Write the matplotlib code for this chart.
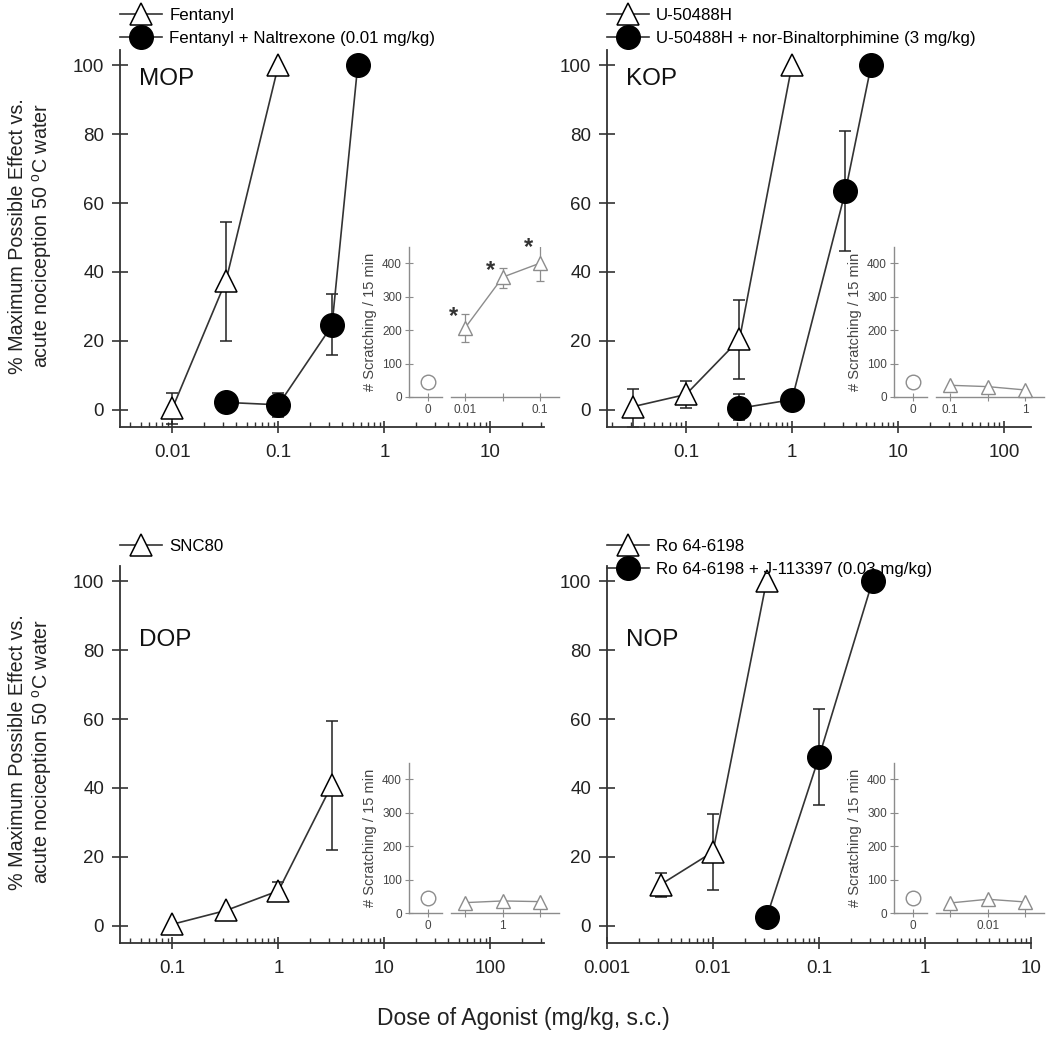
import numpy as np
import matplotlib.pyplot as plt
from matplotlib.lines import Line2D
from matplotlib.ticker import LogLocator, FuncFormatter, NullFormatter

plt.rcParams['font.family'] = ['Liberation Sans', 'DejaVu Sans']
plt.rcParams['mathtext.fontset'] = 'custom'
plt.rcParams['mathtext.rm'] = 'Liberation Sans'

# main panels: % MPE, with error bar bounds
mop_dose = [0.01, 0.032, 0.1]
mop_mpe = [0.5, 37.5, 100]
mop_lo = [-4, 20, 100]
mop_hi = [5, 54.5, 100]
mop_ant_dose = [0.032, 0.1, 0.32, 0.56]
mop_ant_mpe = [2.2, 1.5, 24.5, 100]
mop_ant_lo = [2.2, -2, 16, 100]
mop_ant_hi = [2.2, 5, 33.5, 100]

kop_dose = [0.032, 0.1, 0.32, 1]
kop_mpe = [1, 4.5, 20.5, 100]
kop_lo = [-5, 0.5, 9, 100]
kop_hi = [6, 8.5, 32, 100]
kop_ant_dose = [0.32, 1, 3.2, 5.6]
kop_ant_mpe = [0.5, 3, 63.5, 100]
kop_ant_lo = [-3, 3, 46, 100]
kop_ant_hi = [4.5, 3, 81, 100]

dop_dose = [0.1, 0.32, 1, 3.2]
dop_mpe = [0.5, 4.5, 10.2, 41]
dop_lo = [0.5, 4.5, 7.3, 22]
dop_hi = [0.5, 4.5, 12.8, 59.5]

nop_dose = [0.0032, 0.01, 0.032]
nop_mpe = [12, 21.5, 100]
nop_lo = [8.5, 10.5, 100]
nop_hi = [15.5, 32.5, 100]
nop_ant_dose = [0.032, 0.1, 0.32]
nop_ant_mpe = [2.5, 49, 100]
nop_ant_lo = [2.5, 35, 100]
nop_ant_hi = [2.5, 63, 100]

# insets: scratching bouts / 15 min
itch_vehicle = 45
mop_itch = [207, 358, 400]
mop_itch_lo = [165, 325, 345]
mop_itch_hi = [248, 385, 455]
mop_itch_labels = ['0.01', '', '0.1']
kop_itch = [35, 31, 21]
kop_itch_labels = ['0.1', '', '1']
dop_itch = [31, 36, 34]
dop_itch_labels = ['', '1', '']
nop_itch = [30, 41, 33]
nop_itch_labels = ['', '0.01', '']

W = 1050.0
LINE = '#333333'
GREY = '#8c8c8c'


def Curve(ax, dose, val, lo, hi, filled):
    yerr = [np.subtract(val, lo), np.subtract(hi, val)]
    ax.errorbar(dose, val, yerr=yerr, fmt='none', ecolor='#222222',
                elinewidth=1.1, capsize=4.5, capthick=1.1, zorder=2)
    if filled:
        ax.plot(dose, val, color=LINE, lw=1.2, marker='o', ms=17,
                mfc='black', mec='black', zorder=3, clip_on=False)
    else:
        ax.plot(dose, val, color=LINE, lw=1.2, marker='^', ms=15.5,
                mfc='white', mec='black', mew=1.1, zorder=3, clip_on=False)


def SetupMain(ax, xlim, name, name_y):
    ax.set_xscale('log')
    ax.set_xlim(xlim)
    ax.set_ylim(-4.93, 104.35)
    for s in ['top', 'right']:
        ax.spines[s].set_visible(False)
    for s in ['left', 'bottom']:
        ax.spines[s].set_linewidth(1.3)
        ax.spines[s].set_color(LINE)
    ax.set_yticks([0, 20, 40, 60, 80, 100])
    ax.xaxis.set_major_locator(LogLocator(base=10, numticks=20))
    ax.xaxis.set_minor_locator(LogLocator(base=10, subs=np.arange(2, 10), numticks=20))
    ax.xaxis.set_major_formatter(FuncFormatter(lambda v, p: f'{v:g}'))
    ax.xaxis.set_minor_formatter(NullFormatter())
    ax.tick_params(axis='y', direction='inout', length=11, width=1.2,
                   labelsize=13.5, pad=6, color=LINE, labelcolor='#222222')
    ax.tick_params(axis='x', which='major', direction='inout', length=9,
                   width=1.2, labelsize=13.5, pad=8, color=LINE, labelcolor='#222222')
    ax.tick_params(axis='x', which='minor', direction='in', length=3.5,
                   width=1, color=LINE)
    ax.text(0.045, (name_y + 4.93) / 109.28, name, transform=ax.transAxes,
            fontsize=17.5, ha='left', va='center', color='#111111')


def Inset(left, bottom, vals, labels, lo=None, hi=None, stars=False):
    ax = fig.add_axes([left / W, bottom / W, 150 / W, 150 / W])
    ax.patch.set_visible(False)
    ax.set_xlim(-0.5, 3.5)
    ax.set_ylim(0, 448)
    for s in ['top', 'right', 'bottom']:
        ax.spines[s].set_visible(False)
    ax.spines['left'].set_color(GREY)
    ax.spines['left'].set_linewidth(1)
    ax.plot([-0.5, 0.38], [0, 0], color=GREY, lw=1, clip_on=False)
    ax.plot([0.62, 3.5], [0, 0], color=GREY, lw=1, clip_on=False)
    ax.plot([0], [itch_vehicle], marker='o', ms=10.5, mfc='white', mec=GREY,
            mew=1, ls='none', clip_on=False)
    x = np.arange(1, len(vals) + 1)
    if lo is not None:
        ax.errorbar(x, vals, yerr=[np.subtract(vals, lo), np.subtract(hi, vals)],
                    fmt='none', ecolor=GREY, elinewidth=0.9, capsize=3,
                    capthick=0.9, zorder=2)
    ax.plot(x, vals, color=GREY, lw=1, marker='^', ms=10.5, mfc='white',
            mec=GREY, mew=1, zorder=3, clip_on=False)
    if stars:
        for xi, v in zip(x, hi):
            ax.text(xi - 0.32, v - 8, '*', fontsize=17, fontweight='bold',
                    ha='center', va='center', color='#333333')
    ax.set_xticks(np.arange(0, 4))
    ax.set_xticklabels(['0'] + labels)
    ax.set_yticks(range(0, 401, 100))
    ax.tick_params(direction='inout', length=6, width=0.8, color=GREY,
                   labelsize=8.5, labelcolor='#444444', pad=2)
    ax.set_ylabel('# Scratching / 15 min', fontsize=10.5, color='#444444',
                  labelpad=4)
    return ax


def Legend(x, y, entries):
    handles = []
    labels = []
    for filled, text in entries:
        if filled:
            h = Line2D([], [], color=LINE, lw=1.2, marker='o', ms=17,
                       mfc='black', mec='black')
        else:
            h = Line2D([], [], color=LINE, lw=1.2, marker='^', ms=15.5,
                       mfc='white', mec='black', mew=1.1)
        handles.append(h)
        labels.append(text)
    fig.legend(handles, labels, loc='upper left',
               bbox_to_anchor=(x / W, 1 - y / W), frameon=False,
               fontsize=12.2, handlelength=2.5, handletextpad=0.4,
               labelspacing=0.45, borderpad=0, borderaxespad=0, numpoints=1)


fig = plt.figure(figsize=(10.5, 10.5), dpi=100)

ax1 = fig.add_axes([120 / W, (W - 427) / W, 424 / W, 377 / W])
ax2 = fig.add_axes([607 / W, (W - 427) / W, 424 / W, 377 / W])
ax3 = fig.add_axes([120 / W, (W - 943) / W, 424 / W, 377 / W])
ax4 = fig.add_axes([607 / W, (W - 943) / W, 424 / W, 377 / W])

Curve(ax1, mop_dose, mop_mpe, mop_lo, mop_hi, False)
Curve(ax1, mop_ant_dose, mop_ant_mpe, mop_ant_lo, mop_ant_hi, True)
SetupMain(ax1, (0.0032, 32), 'MOP', 96)

Curve(ax2, kop_dose, kop_mpe, kop_lo, kop_hi, False)
Curve(ax2, kop_ant_dose, kop_ant_mpe, kop_ant_lo, kop_ant_hi, True)
SetupMain(ax2, (0.018, 180), 'KOP', 96)

Curve(ax3, dop_dose, dop_mpe, dop_lo, dop_hi, False)
SetupMain(ax3, (0.032, 320), 'DOP', 83)

Curve(ax4, nop_dose, nop_mpe, nop_lo, nop_hi, False)
Curve(ax4, nop_ant_dose, nop_ant_mpe, nop_ant_lo, nop_ant_hi, True)
SetupMain(ax4, (0.001, 10), 'NOP', 83)

Inset(409, W - 397, mop_itch, mop_itch_labels, mop_itch_lo, mop_itch_hi, stars=True)
Inset(894, W - 397, kop_itch, kop_itch_labels)
Inset(409, W - 913, dop_itch, dop_itch_labels)
Inset(894, W - 913, nop_itch, nop_itch_labels)

Legend(120, 8, [(False, 'Fentanyl'), (True, 'Fentanyl + Naltrexone (0.01 mg/kg)')])
Legend(607, 8, [(False, 'U-50488H'), (True, 'U-50488H + nor-Binaltorphimine (3 mg/kg)')])
Legend(120, 539, [(False, 'SNC80')])
Legend(607, 539, [(False, 'Ro 64-6198'), (True, 'Ro 64-6198 + J-113397 (0.03 mg/kg)')])

ylab = '% Maximum Possible Effect vs.\nacute nociception 50 $^{\\rm o}$C water'
fig.text(31 / W, 1 - 236 / W, ylab, rotation=90, ha='center', va='center',
         fontsize=14.2, linespacing=1.15, color='#222222')
fig.text(31 / W, 1 - 752 / W, ylab, rotation=90, ha='center', va='center',
         fontsize=14.2, linespacing=1.15, color='#222222')
fig.text(523 / W, 1 - 1018 / W, 'Dose of Agonist (mg/kg, s.c.)', ha='center',
         va='center', fontsize=16.5, color='#222222')

fig.savefig('out.png', dpi=100)
